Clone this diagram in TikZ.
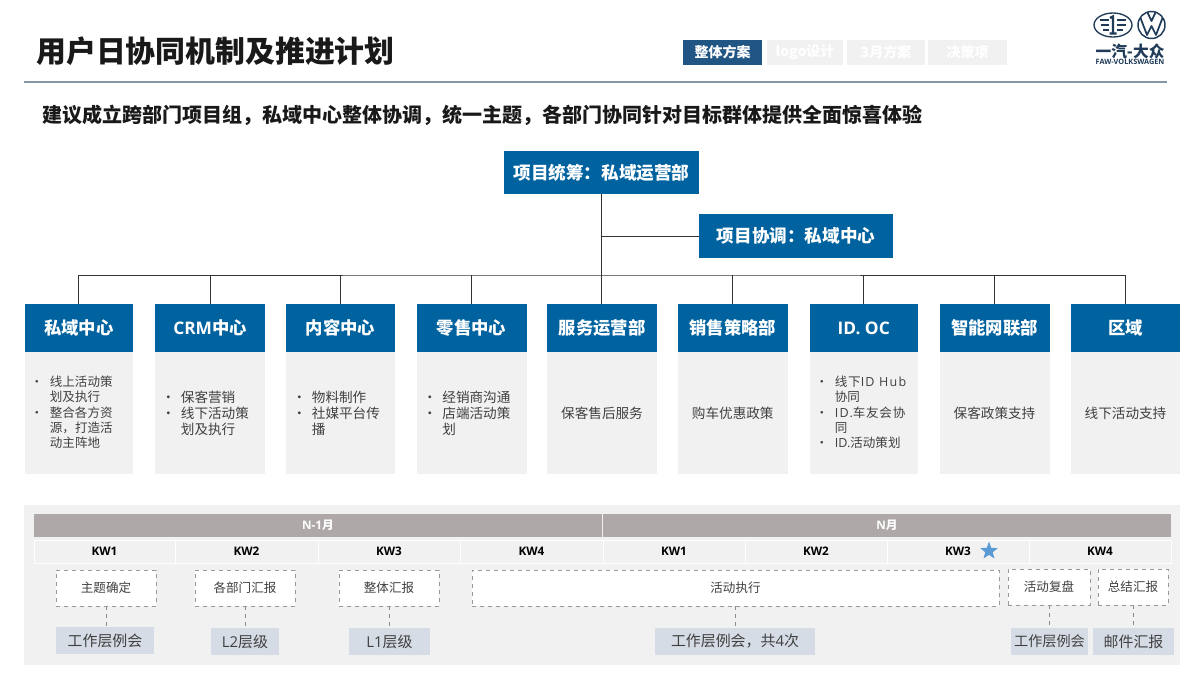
\documentclass[tikz,border=0pt]{standalone}
\usepackage{fontspec}
\setmainfont{Noto Sans CJK SC}
\newfontfamily\lat{Open Sans}
\newfontfamily\latsp{Open Sans}[LetterSpace=10]
\newfontfamily\cjksp{Noto Sans CJK SC}[LetterSpace=6]
\usetikzlibrary{shapes.geometric}
\definecolor{hdr}{HTML}{00629F}
\definecolor{tabon}{HTML}{215584}
\definecolor{card}{HTML}{F1F1F1}
\definecolor{bar}{HTML}{AEA9A8}
\definecolor{pill}{HTML}{D6DCE5}
\definecolor{rulec}{HTML}{8497A8}
\definecolor{txt}{HTML}{404040}
\definecolor{logoc}{HTML}{1F3B57}
\definecolor{starc}{HTML}{5B9BD5}
\newcommand{\fs}[1]{\fontsize{#1}{#1}\selectfont}
\newcommand{\rb}[7][]{\node[#6,minimum width={(#4-#2)*0.75pt},minimum height={(#5-#3)*0.75pt},inner sep=0pt,#1] (#7) at ({(#2+#4)/2},{(#3+#5)/2})}
\newcommand{\bul}{\makebox[11pt][l]{\hspace*{-3.4pt}•}}
\newcommand{\ind}{\hspace*{11pt}}
\tikzset{
 x=0.75pt,y=-0.75pt,
 topbox/.style={fill=hdr,text=white,font=\fs{13.2}\bfseries},
 colhead/.style={fill=hdr,text=white,font=\fs{13}\bfseries},
 bodycard/.style={fill=card},
 bodytext/.style={text=txt,font=\fontsize{10.2}{12}\selectfont,align=left,inner sep=0pt},
 bodysmall/.style={text=txt,font=\fontsize{9.4}{11.5}\selectfont,align=left,inner sep=0pt},
 tabinfo/.style={fill=card,text=white,font=\fs{10.5}\bfseries},
 tabact/.style={fill=tabon,text=white,font=\fs{10.5}\bfseries},
 month/.style={fill=bar,text=white,font=\fs{8.8}\bfseries},
 week/.style={fill=card,text=black,font=\lat\fs{8.8}\bfseries},
 dbox/.style={fill=white,draw=gray!80,dashed,line width=0.5pt,text=txt,font=\fs{9.4}},
 pillbox/.style={fill=pill,text=txt,font=\fs{11.2}},
 treeline/.style={draw=black!80,line width=0.6pt},
 dashline/.style={draw=gray!90,dashed,line width=0.5pt}
}
\begin{document}
\begin{tikzpicture}
\useasboundingbox (0,0) rectangle (1200,675);
\fill[white] (0,0) rectangle (1200,675);
% title
\node[anchor=west,inner sep=0pt,font=\fs{22.4}\bfseries,text=black!90] (title) at (36,51) {用户日协同机制及推进计划};
\rb{683}{40}{762}{65}{tabact}{tab1} {整体方案};
\rb{767}{40}{843}{65}{tabinfo}{tab2} {logo设计};
\rb{847}{40}{925}{65}{tabinfo}{tab3} {3月方案};
\rb{928}{40}{1007}{65}{tabinfo}{tab4} {决策项};
\draw[rulec,line width=1.1pt] (24,82) -- (1167,82);
% logo
\draw[logoc,line width=1pt] (1113,25) ellipse [x radius=19,y radius=12];
\draw[logoc,line width=1.4pt] (1100,20)--(1109,20) (1100.5,25)--(1109,25) (1103,30)--(1109,30)
  (1117,20)--(1126,20) (1117,25)--(1125.5,25) (1117,30)--(1123,30);
\draw[logoc,line width=1.8pt] (1110,18)--(1113,16.5)--(1113,33) (1109.5,33.5)--(1116.5,33.5);
\draw[logoc,line width=1.1pt] (1151.5,25) circle [radius=13.5];
\draw[logoc,line width=1.3pt,line join=round] (1147.5,12.5)--(1151.5,21)--(1155.5,12.5) (1140.5,18)--(1147,35)--(1151.5,26)--(1156,35)--(1162.5,18);
\node[inner sep=0pt,font=\fs{11.8}\bfseries,text=logoc] (logoa) at (1130,51) {一汽-大众};
\node[inner sep=0pt,font=\lat\fs{5.5}\bfseries,text=logoc] (logob) at (1130,62) {FAW-VOLKSWAGEN};
% subtitle
\node[anchor=west,inner sep=0pt,font=\fs{15}\bfseries,text=black!90] (sub) at (42,115) {建议成立跨部门项目组，私域中心整体协调，统一主题，各部门协同针对目标群体提供全面惊喜体验};
% tree boxes
\rb{504}{151}{699}{194}{topbox}{root} {项目统筹：私域运营部};
\rb{699}{214}{893}{258}{topbox}{coord} {项目协调：私域中心};
\rb{24.5}{304}{133}{352}{colhead}{c1} {私域中心};
\rb{155}{304}{265}{352}{colhead}{c2} {{\lat CRM}中心};
\rb{286}{304}{395}{352}{colhead}{c3} {内容中心};
\rb{416.5}{304}{526.5}{352}{colhead}{c4} {零售中心};
\rb{547}{304}{657}{352}{colhead}{c5} {服务运营部};
\rb{678}{304}{787.5}{352}{colhead}{c6} {销售策略部};
\rb{809.5}{304}{918}{352}{colhead}{c7} {\lat ID. OC};
\rb{939.5}{304}{1049.5}{352}{colhead}{c8} {智能网联部};
\rb{1071}{304}{1180}{352}{colhead}{c9} {区域};
\rb{24.5}{352}{133}{474}{bodycard}{b1} {};
\rb{155}{352}{265}{474}{bodycard}{b2} {};
\rb{286}{352}{395}{474}{bodycard}{b3} {};
\rb{416.5}{352}{526.5}{474}{bodycard}{b4} {};
\rb{547}{352}{657}{474}{bodycard}{b5} {};
\rb{678}{352}{787.5}{474}{bodycard}{b6} {};
\rb{809.5}{352}{918}{474}{bodycard}{b7} {};
\rb{939.5}{352}{1049.5}{474}{bodycard}{b8} {};
\rb{1071}{352}{1180}{474}{bodycard}{b9} {};
% connectors
\coordinate (busm) at (601,275);
\draw[treeline] (root.south) -- (root.south |- c5.north);
\draw[treeline] (coord.west) -- (coord.west -| root.south);
\draw[treeline] (c1.north) |- (busm) -| (c9.north);
\foreach \n in {2,3,4,6,7,8} {\draw[treeline] (c\n.north) -- (c\n.north |- busm);}
% body text
\node[bodysmall,anchor=west] (t1) at (35,412.5) {\bul 线上活动策\\\ind 划及执行\\\bul 整合各方资\\\ind 源，打造活\\\ind 动主阵地};
\node[bodytext,anchor=west] (t2) at (166,413) {\bul 保客营销\\\bul 线下活动策\\\ind 划及执行};
\node[bodytext,anchor=west] (t3) at (297,413) {\bul 物料制作\\\bul 社媒平台传\\\ind 播};
\node[bodytext,anchor=west] (t4) at (427.5,413) {\bul 经销商沟通\\\bul 店端活动策\\\ind 划};
\node[bodytext] (t5) at (b5.center) {保客售后服务};
\node[bodytext] (t6) at (b6.center) {购车优惠政策};
\node[bodysmall,anchor=west] (t7) at (820,412.5) {\bul {\cjksp 线下}{\latsp ID Hub}\\\ind 协同\\\bul {\latsp ID.}{\cjksp 车友会协}\\\ind 同\\\bul {\lat ID.}活动策划};
\node[bodytext] (t8) at (b8.center) {保客政策支持};
\node[bodytext] (t9) at (b9.center) {线下活动支持};
% timeline panel
\fill[card] (24,505) rectangle (1180,665);
\rb{34}{514}{602}{537}{month}{m1} {{\lat N-1}月};
\rb{603}{514}{1171}{537}{month}{m2} {{\lat N}月};
\rb{34}{540}{175}{563}{week,draw=white,line width=0.6pt}{k1} {KW1};
\rb{175}{540}{318}{563}{week,draw=white,line width=0.6pt}{k2} {KW2};
\rb{318}{540}{460}{563}{week,draw=white,line width=0.6pt}{k3} {KW3};
\rb{460}{540}{603}{563}{week,draw=white,line width=0.6pt}{k4} {KW4};
\rb{603}{540}{745}{563}{week,draw=white,line width=0.6pt}{k5} {KW1};
\rb{745}{540}{887}{563}{week,draw=white,line width=0.6pt}{k6} {KW2};
\rb{887}{540}{1029}{563}{week,draw=white,line width=0.6pt}{k7} {KW3};
\rb{1029}{540}{1171}{563}{week,draw=white,line width=0.6pt}{k8} {KW4};
\node[star,star points=5,star point ratio=2.4,fill=starc,minimum size=14pt,inner sep=0pt] (star) at (989,551) {};
\rb{56}{570}{156}{606}{dbox}{d1} {主题确定};
\rb{195}{570}{295}{606}{dbox}{d2} {各部门汇报};
\rb{339}{570}{439}{606}{dbox}{d3} {整体汇报};
\rb{472}{570}{999}{606}{dbox}{d4} {活动执行};
\rb{1008}{569}{1090}{605}{dbox}{d5} {活动复盘};
\rb{1098}{569}{1168}{605}{dbox}{d6} {总结汇报};
\rb{56}{627}{154}{654}{pillbox}{p1} {工作层例会};
\rb{211}{628}{279}{655}{pillbox}{p2} {{\lat L2}层级};
\rb{349}{628}{430}{655}{pillbox}{p3} {{\lat L1}层级};
\rb{655}{628}{815}{655}{pillbox}{p4} {工作层例会，共{\lat 4}次};
\rb[font=\fs{10.6}]{1011}{628}{1088}{655}{pillbox}{p5} {工作层例会};
\rb{1093}{628}{1174}{655}{pillbox}{p6} {邮件汇报};
\draw[dashline] (d1.south) -- (d1.south |- p1.north);
\draw[dashline] (d2.south) -- (d2.south |- p2.north);
\draw[dashline] (d3.south) -- (d3.south |- p3.north);
\draw[dashline] (d4.south) -- (d4.south |- p4.north);
\draw[dashline] (d5.south) -- (d5.south |- p5.north);
\draw[dashline] (d6.south) -- (d6.south |- p6.north);
\end{tikzpicture}
\end{document}
